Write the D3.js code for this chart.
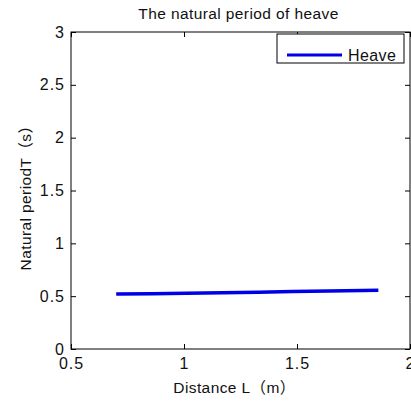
<!DOCTYPE html>
<head>
<meta charset="utf-8">
<style>
body, html {
  margin: 0;
  background: #fff;
  font-family: "Liberation Sans", Arial, "Noto Sans CJK SC", sans-serif;
}
.axis path, .axis line { stroke: #000; }
.axis text { font-size: 16px; fill: #111; letter-spacing: 1px; }
.lbl { font-size: 15.5px; fill: #111; letter-spacing: 0.4px; }
</style>
<script src="https://d3js.org/d3.v7.min.js"></script>
</head>
<body>
<script>

// data
var distance = [0.70, 0.86, 1.01, 1.17, 1.33, 1.48, 1.64, 1.79, 1.86];
var heave    = [0.520, 0.524, 0.528, 0.533, 0.538, 0.543, 0.548, 0.553, 0.556];
var xTicks = [0.5, 1, 1.5, 2];
var yTicks = [0, 0.5, 1, 1.5, 2, 2.5, 3];

var width = 411, height = 401;
var margin = {left: 71, right: 1, top: 32, bottom: 52};

var svg = d3.select('body').append('svg')
  .attr('width', width)
  .attr('height', height);

var x = d3.scaleLinear().domain([0.5, 2]).range([margin.left, width - margin.right]);
var y = d3.scaleLinear().domain([0, 3]).range([height - margin.bottom, margin.top]);

// box
svg.append('rect')
  .attr('x', x(0.5)).attr('y', y(3))
  .attr('width', x(2) - x(0.5)).attr('height', y(0) - y(3))
  .attr('fill', 'none').attr('stroke', '#000');

// bottom / left axes with inward ticks
svg.append('g').attr('class', 'axis')
  .attr('transform', 'translate(0,' + y(0) + ')')
  .call(d3.axisBottom(x).tickValues(xTicks).tickSize(-5).tickPadding(9).tickFormat(d3.format('')))
  .call(function(g) { g.select('.domain').remove(); });

svg.append('g').attr('class', 'axis')
  .attr('transform', 'translate(' + x(0.5) + ',0)')
  .call(d3.axisLeft(y).tickValues(yTicks).tickSize(-5).tickPadding(6).tickFormat(d3.format('')))
  .call(function(g) { g.select('.domain').remove(); });

// top / right ticks
svg.append('g').attr('class', 'axis')
  .attr('transform', 'translate(0,' + y(3) + ')')
  .call(d3.axisTop(x).tickValues(xTicks).tickSize(-5).tickFormat(''))
  .call(function(g) { g.select('.domain').remove(); });

svg.append('g').attr('class', 'axis')
  .attr('transform', 'translate(' + x(2) + ',0)')
  .call(d3.axisRight(y).tickValues(yTicks).tickSize(-5).tickFormat(''))
  .call(function(g) { g.select('.domain').remove(); });

// line
var line = d3.line()
  .x(function(d, i) { return x(distance[i]); })
  .y(function(d) { return y(d); });

svg.append('path')
  .datum(heave)
  .attr('d', line)
  .attr('fill', 'none')
  .attr('stroke', '#0000e6')
  .attr('stroke-width', 3.5);

// title and labels
svg.append('text').attr('class', 'lbl')
  .attr('x', (x(0.5) + x(2)) / 2 - 2).attr('y', 19)
  .attr('text-anchor', 'middle')
  .text('The natural period of heave');

svg.append('text').attr('class', 'lbl')
  .attr('x', (x(0.5) + x(2)) / 2 - 6).attr('y', 393)
  .attr('text-anchor', 'middle')
  .text('Distance L（m）');

svg.append('text').attr('class', 'lbl')
  .attr('transform', 'translate(31,' + 194 + ') rotate(-90)')
  .attr('text-anchor', 'middle')
  .text('Natural periodT（s）');

// legend
var leg = svg.append('g').attr('transform', 'translate(277,34)');
leg.append('rect')
  .attr('width', 127).attr('height', 29)
  .attr('fill', '#fff').attr('stroke', '#000');
leg.append('line')
  .attr('x1', 10).attr('x2', 65).attr('y1', 21).attr('y2', 21)
  .attr('stroke', '#0000e6').attr('stroke-width', 3);
leg.append('text').attr('class', 'lbl')
  .attr('x', 71).attr('y', 27)
  .style('font-size', '16px')
  .text('Heave');

</script>
</body>
